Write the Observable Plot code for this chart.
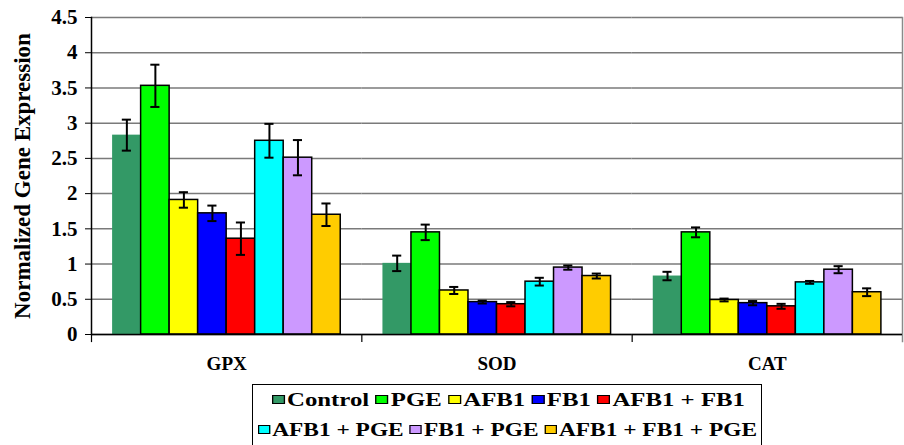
<!DOCTYPE html>
<html>
<head>
<meta charset="utf-8">
<script src="https://cdn.jsdelivr.net/npm/d3@7"></script>
<script src="https://cdn.jsdelivr.net/npm/@observablehq/plot@0.6"></script>
<style>
  html, body { margin: 0; padding: 0; background: white; }
  #wrap { position: relative; width: 904px; height: 445px; overflow: hidden; }
  #legend {
    position: absolute; left: 252px; top: 384px; width: 510px; height: 80px;
    border: 1.5px solid black; box-sizing: border-box;
    color: black; line-height: 30px; padding-top: 0px;
  }
  #legend .row { white-space: nowrap; display: block; width: max-content; transform-origin: 0 0; position: relative; }
  #legend .item { display: inline-block; margin-right: 5px; }
  #legend .sw { display: inline-block; width: 7.5px; height: 7.5px; border: 1.5px solid black; margin-right: 2px; vertical-align: 2px; }
</style>
</head>
<body>
<div id="wrap"><div id="chart"></div><div id="legend"></div></div>
<script>
const genes = ["GPX", "SOD", "CAT"];
const treatments = ["Control", "PGE", "AFB1", "FB1", "AFB1 + FB1", "AFB1 + PGE", "FB1 + PGE", "AFB1 + FB1 + PGE"];
const colors = ["#339966", "#00ff00", "#ffff00", "#0000ff", "#ff0000", "#00ffff", "#cc99ff", "#ffcc00"];
const gpxValues = [2.83, 3.53, 1.91, 1.72, 1.36, 2.75, 2.51, 1.70];
const gpxErrors = [0.22, 0.30, 0.11, 0.11, 0.23, 0.24, 0.25, 0.16];
const sodValues = [1.01, 1.45, 0.625, 0.46, 0.43, 0.75, 0.95, 0.83];
const sodErrors = [0.11, 0.11, 0.05, 0.02, 0.03, 0.055, 0.03, 0.035];
const catValues = [0.83, 1.45, 0.49, 0.445, 0.40, 0.74, 0.92, 0.60];
const catErrors = [0.06, 0.07, 0.02, 0.03, 0.035, 0.02, 0.05, 0.055];
const yTicks = [0, 0.5, 1, 1.5, 2, 2.5, 3, 3.5, 4, 4.5];
const yLabel = "Normalized Gene Expression";

const valuesByGene = {GPX: gpxValues, SOD: sodValues, CAT: catValues};
const errorsByGene = {GPX: gpxErrors, SOD: sodErrors, CAT: catErrors};
const rows = [];
for (const g of genes) {
  treatments.forEach((t, i) => rows.push({gene: g, treatment: t, v: valuesByGene[g][i], e: errorsByGene[g][i]}));
}
const control = rows.filter(d => d.treatment === "Control");
const others = rows.filter(d => d.treatment !== "Control");
const serif = "'Liberation Serif', 'Times New Roman', serif";

const chart = Plot.plot({
  width: 904,
  height: 384,
  marginLeft: 91,
  marginRight: 2,
  marginTop: 17,
  marginBottom: 50,
  style: {fontFamily: serif, fontWeight: "bold", fontSize: "19px", color: "black", background: "white"},
  fx: {domain: genes, padding: 0, round: false, label: null},
  x: {domain: treatments, paddingInner: 0, paddingOuter: 0.74, round: false, axis: null},
  y: {domain: [0, 4.5], label: null},
  color: {domain: treatments, range: colors},
  marks: [
    Plot.gridY(yTicks, {stroke: "#7a7a7a", strokeOpacity: 1, strokeWidth: 1.5}),
    Plot.frame({anchor: "right", facetAnchor: "right", stroke: "#8a8a8a", strokeWidth: 1.5, insetBottom: -7}),
    Plot.frame({anchor: "left", stroke: "black", strokeWidth: 1.2, insetTop: 317, insetBottom: -7}),
    Plot.frame({anchor: "left", facetAnchor: "left", stroke: "black", strokeWidth: 1.5}),
    Plot.barY(control, {fx: "gene", x: "treatment", y: "v", fill: "treatment"}),
    Plot.barY(others, {fx: "gene", x: "treatment", y: "v", fill: "treatment", stroke: "black", strokeWidth: 1.5}),
    Plot.ruleY([0], {stroke: "black", strokeWidth: 1.5}),
    Plot.ruleX(rows, {fx: "gene", x: "treatment", y1: d => d.v - d.e, y2: d => d.v + d.e, stroke: "black", strokeWidth: 2}),
    Plot.tickY(rows, {fx: "gene", x: "treatment", y: d => d.v + d.e, insetLeft: 9.7, insetRight: 9.7, stroke: "black", strokeWidth: 2}),
    Plot.tickY(rows, {fx: "gene", x: "treatment", y: d => d.v - d.e, insetLeft: 9.7, insetRight: 9.7, stroke: "black", strokeWidth: 2}),
    Plot.axisY({ticks: yTicks, tickSize: 6, tickPadding: 8, tickFormat: d => String(d), fontSize: 21,
                label: null}),
    Plot.axisY({ticks: [], tickSize: 0, fontSize: 23,
                label: yLabel, labelArrow: "none", labelAnchor: "center", labelOffset: 78}),
    Plot.axisFx({anchor: "bottom", tickSize: 0, tickPadding: 22, fontSize: 19, label: null})
  ]
});
chart.querySelectorAll("text").forEach(t => { t.style.fontFamily = serif; t.style.fontWeight = "bold"; });
document.getElementById("chart").appendChild(chart);

const legend = document.getElementById("legend");
legend.style.fontFamily = serif;
legend.style.fontWeight = "bold";
legend.style.fontSize = "19px";
const legendRows = [treatments.slice(0, 5), treatments.slice(5)];
const rowSpans = [[272, 745], [258, 757]];
legendRows.forEach((r, ri) => {
  const row = document.createElement("div");
  row.className = "row";
  r.forEach((t, k) => {
    const item = document.createElement("span");
    item.className = "item";
    if (k === r.length - 1) item.style.marginRight = "0";
    const sw = document.createElement("span");
    sw.className = "sw";
    sw.style.background = colors[treatments.indexOf(t)];
    item.appendChild(sw);
    item.appendChild(document.createTextNode(t));
    row.appendChild(item);
  });
  legend.appendChild(row);
  const [a, b] = rowSpans[ri];
  const w = row.getBoundingClientRect().width;
  const s = (b - a) / w;
  row.style.left = (a - 252 - 1.5) + "px";
  row.style.transform = `scaleX(${s})`;
});
</script>
</body>
</html>
